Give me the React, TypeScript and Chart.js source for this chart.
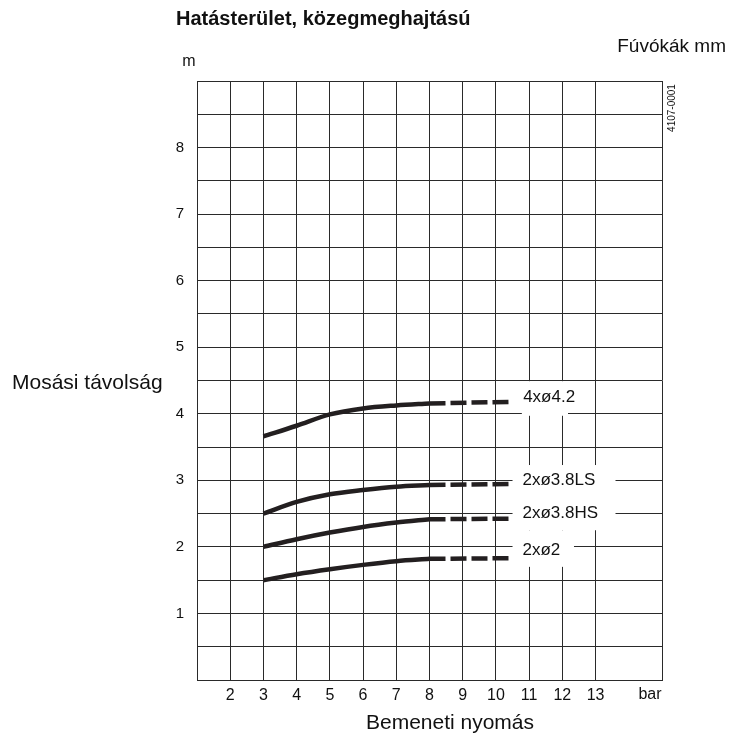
import { useEffect, useRef } from 'react';
import { Chart, registerables } from 'chart.js';

Chart.register(...registerables);

// ---- data ----
const PRESSURE = [3, 4, 5, 6, 7, 8];
const DASH_PRESSURE = [8, 10.5];
const NOZZLES = ['4xø4.2', '2xø3.8LS', '2xø3.8HS', '2xø2'];
const RANGE_42 = [3.66, 3.82, 3.99, 4.08, 4.125, 4.155];
const RANGE_38LS = [2.5, 2.675, 2.79, 2.855, 2.905, 2.93];
const RANGE_38HS = [2.0, 2.115, 2.215, 2.3, 2.365, 2.415];
const RANGE_2 = [1.5, 1.59, 1.665, 1.73, 1.785, 1.82];
const DASH_42 = [4.155, 4.18];
const DASH_38LS = [2.93, 2.945];
const DASH_38HS = [2.415, 2.425];
const DASH_2 = [1.82, 1.83];
const X_TICK_LABELS = [2, 3, 4, 5, 6, 7, 8, 9, 10, 11, 12, 13];
const Y_TICK_LABELS = [1, 2, 3, 4, 5, 6, 7, 8];

const FONT = '"Liberation Sans", Arial, Helvetica, sans-serif';
const INK = '#231f20';
const GRID = '#2a2a2a';

const solid = [RANGE_42, RANGE_38LS, RANGE_38HS, RANGE_2];
const dashed = [DASH_42, DASH_38LS, DASH_38HS, DASH_2];

// label layout (data coordinates) for the nozzle labels and their white backing boxes
const LABEL_LAYOUT = [
  { tx: 10.82, ty: 4.25, box: [10.78, 12.17, 4.49, 3.97] },
  { tx: 10.8, ty: 3.0, box: [10.5, 13.6, 3.23, 2.25] },
  { tx: 10.8, ty: 2.51, box: null },
  { tx: 10.8, ty: 1.945, box: [10.5, 12.35, 2.25, 1.7] },
];

const decorPlugin = {
  id: 'decor',
  beforeDatasetsDraw(chart: any) {
    const { ctx, scales } = chart;
    const xs = scales.x;
    const ys = scales.y;
    ctx.save();
    ctx.fillStyle = '#ffffff';
    LABEL_LAYOUT.forEach((l) => {
      if (!l.box) return;
      const [x0, x1, y0, y1] = l.box;
      const px0 = xs.getPixelForValue(x0);
      const px1 = xs.getPixelForValue(x1);
      const py0 = ys.getPixelForValue(y0);
      const py1 = ys.getPixelForValue(y1);
      ctx.fillRect(px0, py0, px1 - px0, py1 - py0);
    });
    ctx.restore();
  },
  afterDatasetsDraw(chart: any) {
    const { ctx, scales } = chart;
    const xs = scales.x;
    const ys = scales.y;
    ctx.save();
    ctx.fillStyle = '#111';
    // nozzle labels
    ctx.font = `17px ${FONT}`;
    ctx.textAlign = 'left';
    ctx.textBaseline = 'middle';
    NOZZLES.forEach((n, i) => {
      const l = LABEL_LAYOUT[i];
      ctx.fillText(n, xs.getPixelForValue(l.tx), ys.getPixelForValue(l.ty));
    });
    // title
    ctx.font = `bold 20px ${FONT}`;
    ctx.textAlign = 'left';
    ctx.fillText('Hatásterület, közegmeghajtású', 176, 19);
    ctx.font = `19px ${FONT}`;
    ctx.textAlign = 'right';
    ctx.fillText('Fúvókák mm', 726, 47);
    ctx.font = `16px ${FONT}`;
    ctx.textAlign = 'center';
    ctx.fillText('m', 189, 62);
    ctx.font = `21px ${FONT}`;
    ctx.textAlign = 'left';
    ctx.textBaseline = 'alphabetic';
    ctx.fillText('Mosási távolság', 12, 389);
    ctx.textAlign = 'center';
    ctx.textBaseline = 'middle';
    ctx.fillText('Bemeneti nyomás', 450, 723);
    ctx.font = `16px ${FONT}`;
    ctx.fillText('bar', 650, 695);
    // drawing number
    ctx.translate(672, 108);
    ctx.rotate(-Math.PI / 2);
    ctx.font = `10px ${FONT}`;
    ctx.fillText('4107-0001', 0, 0);
    ctx.restore();
  },
};

export default function App() {
  const canvasRef = useRef<HTMLCanvasElement | null>(null);

  useEffect(() => {
    document.body.style.margin = '0';
    const canvas = canvasRef.current;
    if (!canvas) return;

    const datasets: any[] = [];
    NOZZLES.forEach((name, i) => {
      datasets.push({
        label: name,
        data: PRESSURE.map((p, k) => ({ x: p, y: solid[i][k] })),
        borderColor: INK,
        borderWidth: 4.5,
        pointRadius: 0,
        cubicInterpolationMode: 'monotone',
        fill: false,
      });
      datasets.push({
        label: name + ' (extrapolated)',
        data: DASH_PRESSURE.map((p, k) => ({ x: p, y: dashed[i][k] })),
        borderColor: INK,
        borderWidth: 4.5,
        borderDash: [16, 5],
        pointRadius: 0,
        fill: false,
      });
    });

    const chart = new Chart(canvas, {
      type: 'line',
      data: { datasets },
      options: {
        animation: false,
        responsive: false,
        devicePixelRatio: 1,
        layout: { padding: { top: 81, right: 81, left: 0, bottom: 0 } },
        plugins: { legend: { display: false }, tooltip: { enabled: false } },
        scales: {
          x: {
            type: 'linear',
            min: 1,
            max: 15,
            afterFit: (s: any) => {
              s.height = 62;
            },
            afterBuildTicks: (s: any) => {
              const t = [];
              for (let v = 1; v <= 15; v++) t.push({ value: v });
              s.ticks = t;
            },
            ticks: {
              autoSkip: false,
              maxRotation: 0,
              padding: 6,
              color: '#111',
              font: { family: FONT, size: 16 },
              callback: (v: any) => (X_TICK_LABELS.includes(Number(v)) ? String(v) : ''),
            },
            grid: {
              drawTicks: false,
              lineWidth: 1,
              color: (c: any) => (c.tick && c.tick.value === 14 ? 'rgba(0,0,0,0)' : GRID),
            },
            border: { display: true, color: GRID, width: 1 },
          },
          y: {
            type: 'linear',
            min: 0,
            max: 9,
            afterFit: (s: any) => {
              s.width = 197;
            },
            afterBuildTicks: (s: any) => {
              const t = [];
              for (let v = 0; v <= 18; v++) t.push({ value: v / 2 });
              s.ticks = t;
            },
            ticks: {
              autoSkip: false,
              padding: 13,
              color: '#111',
              font: { family: FONT, size: 15 },
              callback: (v: any) => (Y_TICK_LABELS.includes(Number(v)) ? String(v) : ''),
            },
            grid: { drawTicks: false, lineWidth: 1, color: GRID },
            border: { display: true, color: GRID, width: 1 },
          },
        },
      },
      plugins: [decorPlugin],
    });
    return () => chart.destroy();
  }, []);

  return (
    <div style={{ position: 'fixed', left: 0, top: 0, width: 743, height: 742, background: '#fff' }}>
      <canvas ref={canvasRef} width={743} height={742} style={{ display: 'block', width: 743, height: 742 }} />
    </div>
  );
}
